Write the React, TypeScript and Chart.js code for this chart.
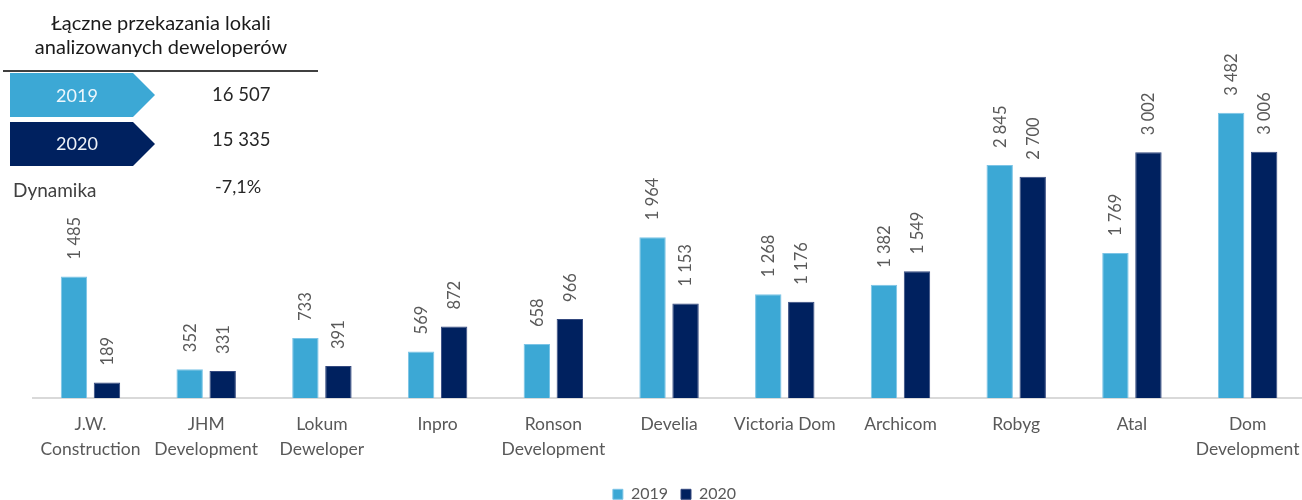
import React, { useEffect, useRef } from "react";
import { Chart, registerables } from "chart.js";

Chart.register(...registerables);

const categories: (string | string[])[] = [
  ["J.W.", "Construction"],
  ["JHM", "Development"],
  ["Lokum", "Deweloper"],
  "Inpro",
  ["Ronson", "Development"],
  "Develia",
  "Victoria Dom",
  "Archicom",
  "Robyg",
  "Atal",
  ["Dom", "Development"],
];
const values2019 = [1485, 352, 733, 569, 658, 1964, 1268, 1382, 2845, 1769, 3482];
const values2020 = [189, 331, 391, 872, 966, 1153, 1176, 1549, 2700, 3002, 3006];
const seriesLabels = ["2019", "2020"];
const summaryTitle = ["Łączne przekazania lokali", "analizowanych deweloperów"];
const summaryTotals = ["16 507", "15 335"];
const dynamicsLabel = "Dynamika";
const dynamicsValue = "-7,1%";

const LIGHT = "#3ca8d5";
const DARK = "#00215f";
const FONT = "Lato, 'Open Sans', sans-serif";

const fmt = (v: number) => String(v).replace(/\B(?=(\d{3})+(?!\d))/g, " ");

const valueLabels = {
  id: "valueLabels",
  afterDatasetsDraw(chart: any) {
    const ctx = chart.ctx;
    chart.data.datasets.forEach((ds: any, di: number) => {
      const meta = chart.getDatasetMeta(di);
      meta.data.forEach((bar: any, i: number) => {
        const v = ds.data[i];
        ctx.save();
        ctx.translate(bar.x + 0.5, bar.y - 17);
        ctx.rotate(-Math.PI / 2);
        ctx.font = "16.5px " + FONT;
        ctx.fillStyle = "#595959";
        ctx.textAlign = "left";
        ctx.textBaseline = "middle";
        ctx.fillText(fmt(v), 0, 0);
        ctx.restore();
      });
    });
  },
};

function Txt(props: { x: number; y: number; size: number; color: string; children: any; center?: boolean; w?: number }) {
  const { x, y, size, color, children, center, w } = props;
  // y is baseline
  const top = y - 0.887 * size;
  const style: any = {
    position: "absolute",
    top,
    left: center ? x - (w || 400) / 2 : x,
    width: center ? w || 400 : undefined,
    textAlign: center ? "center" : "left",
    fontFamily: FONT,
    fontSize: size,
    lineHeight: size + "px",
    color,
    whiteSpace: "nowrap",
  };
  return <div style={style}>{children}</div>;
}

function Chevron(props: { y: number; color: string }) {
  return (
    <div
      style={{
        position: "absolute",
        left: 10,
        top: props.y,
        width: 145,
        height: 44,
        background: props.color,
        clipPath: "polygon(0 0, 123px 0, 145px 50%, 123px 100%, 0 100%)",
      }}
    />
  );
}

export default function App() {
  const ref = useRef<HTMLCanvasElement | null>(null);

  useEffect(() => {
    if (!ref.current) return;
    const chart = new Chart(ref.current, {
      type: "bar",
      data: {
        labels: categories as any,
        datasets: [
          {
            label: seriesLabels[0],
            data: values2019,
            backgroundColor: LIGHT,
            borderColor: "#7cc4e6",
            borderWidth: 1,
            yAxisID: "y",
          },
          {
            label: seriesLabels[1],
            data: values2020,
            backgroundColor: DARK,
            borderColor: "#34497f",
            borderWidth: 1,
            yAxisID: "y",
          },
        ],
      },
      options: {
        animation: false,
        responsive: false,
        maintainAspectRatio: false,
        events: [],
        layout: { padding: { left: 24.6, right: 5.6, top: 70.4, bottom: 7.7 } },
        datasets: {
          bar: { categoryPercentage: 0.5705, barPercentage: 0.8 },
        },
        scales: {
          x: {
            grid: { display: false },
            border: { display: true, color: "#d9d9d9", width: 2 },
            ticks: {
              color: "#595959",
              font: { family: FONT, size: 17.5, lineHeight: 1.4 },
              padding: 6.5,
              maxRotation: 0,
              autoSkip: false,
            },
            afterFit: (s: any) => {
              s.height = 75.3;
            },
          },
          y: {
            position: "left",
            min: 0,
            max: 4000,
            grid: { display: false },
            border: { display: false },
            ticks: { display: false },
            afterFit: (s: any) => {
              s.width = 8;
            },
          },
          y2: {
            position: "right",
            min: 0,
            max: 1,
            grid: { display: false },
            border: { display: false },
            ticks: { display: false },
            afterFit: (s: any) => {
              s.width = 18.9;
            },
          },
        },
        plugins: {
          tooltip: { enabled: false },
          legend: {
            display: true,
            position: "bottom",
            labels: {
              boxWidth: 10,
              boxHeight: 10,
              padding: 13,
              color: "#595959",
              font: { family: FONT, size: 16 },
            },
          },
        },
      } as any,
      plugins: [valueLabels],
    });
    return () => chart.destroy();
  }, []);

  return (
    <div
      style={{
        position: "fixed",
        left: 0,
        top: 0,
        width: "100vw",
        height: "100vh",
        overflow: "hidden",
        background: "#ffffff",
      }}
    >
      <div style={{ position: "absolute", left: 0, top: 0, width: 1330, height: 520 }}>
        <canvas ref={ref} width={1330} height={520} style={{ width: 1330, height: 520, display: "block" }} />
      </div>
      <Txt x={161} y={29.3} size={20} color="#1a1a1a" center w={330}>
        {summaryTitle[0]}
      </Txt>
      <Txt x={161} y={53.3} size={20} color="#1a1a1a" center w={330}>
        {summaryTitle[1]}
      </Txt>
      <div style={{ position: "absolute", left: 3, top: 70, width: 315, height: 1.5, background: "#404040" }} />
      <Chevron y={73} color={LIGHT} />
      <Chevron y={122} color={DARK} />
      <Txt x={77} y={101.7} size={18} color="#eef7fc" center w={120}>
        {seriesLabels[0]}
      </Txt>
      <Txt x={77} y={150} size={18} color="#eef2f8" center w={120}>
        {seriesLabels[1]}
      </Txt>
      <Txt x={212} y={101.7} size={18.5} color="#262626">
        {summaryTotals[0]}
      </Txt>
      <Txt x={212} y={146.7} size={18.5} color="#262626">
        {summaryTotals[1]}
      </Txt>
      <Txt x={13} y={196.7} size={19} color="#404040">
        {dynamicsLabel}
      </Txt>
      <Txt x={215} y={193.3} size={18} color="#262626">
        {dynamicsValue}
      </Txt>
    </div>
  );
}
